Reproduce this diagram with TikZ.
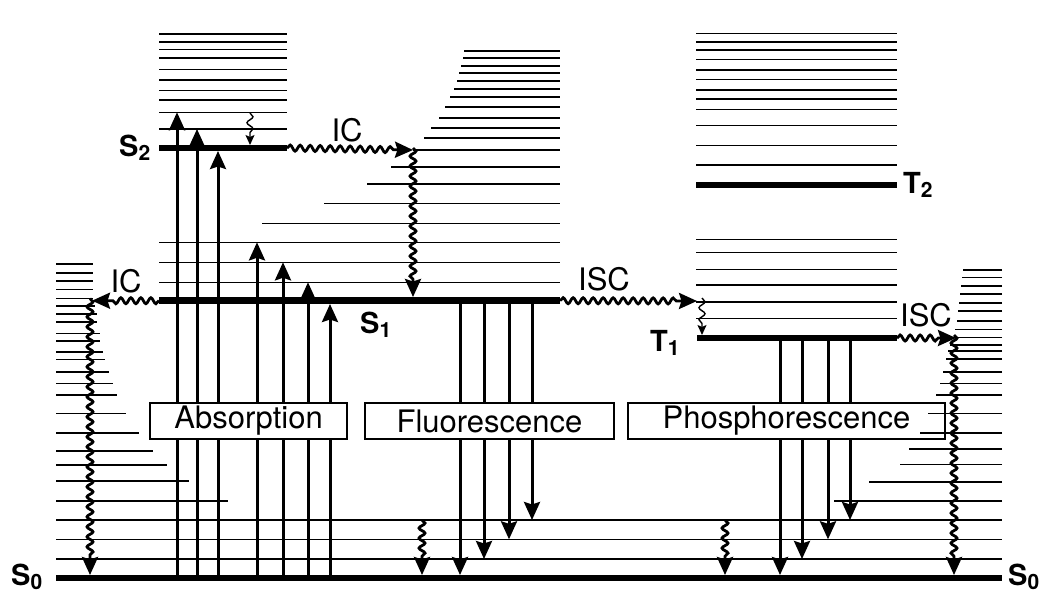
\documentclass[tikz,border=0pt]{standalone}
\usepackage{fontspec}
\setmainfont{TeX Gyre Heros}
\usetikzlibrary{arrows.meta,decorations.pathmorphing}

\tikzset{
  vib/.style={line width=1.6pt},
  level/.style={line width=6.5pt},
  bigtip/.style={-{Stealth[length=18pt,width=16pt,inset=2.5pt]}},
  radiative/.style={line width=3pt, bigtip},
  nonrad/.style={line width=2.8pt, bigtip, decorate,
    decoration={snake,amplitude=3pt,segment length=10pt,post length=16pt}},
  relax/.style={line width=1.4pt, -{Stealth[length=10pt,width=9pt,inset=2pt]}, decorate,
    decoration={snake,amplitude=3pt,segment length=12pt,post length=9pt}},
  procbox/.style={draw, line width=1.3pt, fill=white, minimum height=36pt, inner sep=0pt,
    font=\fontsize{31}{36}\selectfont},
  proc/.style={font=\fontsize{31}{36}\selectfont, inner sep=0pt},
  statelbl/.style={font=\fontsize{29}{34}\selectfont\bfseries, inner sep=0pt, anchor=base west}
}
\newcommand{\statename}[2]{#1\raisebox{-4pt}{\fontsize{21}{21}\selectfont\bfseries #2}}

\begin{document}
\begin{tikzpicture}[x=1pt,y=-1pt]
  \useasboundingbox (0,0) rectangle (1043,592);

  % vibrational ladders
  \foreach \y/\w in {264/37,272.7/37,280.7/37,289.3/37,298.3/37,306/39,314/41,321.7/41,
      333.3/44,340.7/44,351.7/47,359.3/49,371.7/53,383.3/57,395/61,413.3/70,432.7/83,
      450.7/97,465/111,481/133,500.7/172}
    \draw[vib] (56,\y) -- ++(\w,0);
  \foreach \y in {520,539.3,559}
    \draw[vib] (56,\y) -- (1002,\y);
  \foreach \y in {34,41.7,49.3,57.7,69.3,80,90.3,100,112.3,129}
    \draw[vib] (159,\y) -- (287,\y);
  \foreach \y/\x in {50.7/464,57.7/463,65.7/461,73/459,80.7/457,88.7/454,97/450,107/445,
      118/439,128/431,138/424,150/413,166.7/391,184/367,203.3/324,223.3/262,
      242.3/159,262.3/159,282.3/159}
    \draw[vib] (\x,\y) -- (560,\y);
  \foreach \y in {33.3,41.7,50,59.3,70,79.3,90,99,109.3,125.3,145.3,165,
      239.3,252.3,269.3,285,301.7,318.3}
    \draw[vib] (696,\y) -- (897,\y);

  % electronic levels
  \coordinate (S0w) at (56,578);   \coordinate (S0e) at (1002,578);
  \coordinate (S1w) at (159,300.7); \coordinate (S1e) at (560,300.7);
  \coordinate (S2w) at (159,148);  \coordinate (S2e) at (287,148);
  \coordinate (T1w) at (697,338);  \coordinate (T1e) at (897,338);
  \coordinate (T2w) at (696,185);  \coordinate (T2e) at (897,185);
  \foreach \a/\b in {S0w/S0e,S1w/S1e,S2w/S2e,T1w/T1e,T2w/T2e}
    \draw[level] (\a) -- (\b);

  % absorption, fluorescence, phosphorescence
  \foreach \x/\y in {177/112.3,197/129,218/151,257/242.3,283/262.3,308/282.3,330/304}
    \draw[radiative] (\x,578) -- (\x,\y);
  \foreach \x/\y in {460/575,484/559,509/539.3,532/520}
    \draw[radiative] (\x,300.7) -- (\x,\y);
  \foreach \x/\y in {780/575,802/559,828/539.3,850/520}
    \draw[radiative] (\x,338) -- (\x,\y);

  % internal conversion and intersystem crossing
  \coordinate (ICa) at (413,150);
  \coordinate (ICb) at (92,300.7);
  \coordinate (ISCa) at (697,301);
  \coordinate (ISCb) at (956,338);
  \draw[nonrad] (S2e) -- (ICa);
  \draw[nonrad] ([yshift=2pt]ICa) -- (413,297);
  \draw[nonrad] (S1w) -- (ICb);
  \draw[nonrad] ([xshift=-2pt,yshift=2pt]ICb) -- (90,575);
  \draw[nonrad] (S1e) -- (ISCa);
  \draw[nonrad] (T1e) -- (ISCb);
  \draw[nonrad] ([xshift=-2pt,yshift=3pt]ISCb) -- (954,575);
  \draw[nonrad] (422,520) -- (422,575);
  \draw[nonrad] (725,520) -- (725,575);
  \draw[relax] (250,113) -- (250,145);
  \draw[relax] ([xshift=5pt,yshift=3pt]ISCa) -- (702,335);

  % process labels
  \node[procbox, minimum width=197pt] (absorb) at (248.5,421) {Absorption};
  \node[procbox, minimum width=249pt] (fluor) at (489.5,421) {Fluorescence};
  \node[procbox, minimum width=317pt] (phos) at (786.5,421) {Phosphorescence};
  \node[proc] (ic1) at (347,130) {IC};
  \node[proc] (ic2) at (126,281) {IC};
  \node[proc] (isc1) at (604,279) {ISC};
  \node[proc] (isc2) at (926,315) {ISC};

  % right ground-state ladder
  \foreach \y/\w in {270/39,277.3/40,285.7/41,294/42,302.7/43,311/44,321/45,329.3/47,
      337.3/49,345/52,351/54,359/56,371.7/59,383.3/62,395/66,413.3/74,432.7/82,
      449/93,464.3/102,481.7/133,501/168}
    \draw[vib] (1002,\y) -- ++(-\w,0);

  % state labels
  \node[statelbl] (lS0a) at (11,585) {\statename{S}{0}};
  \node[statelbl] (lS0b) at (1008,585) {\statename{S}{0}};
  \node[statelbl] (lS1) at (360,333) {\statename{S}{1}};
  \node[statelbl] (lS2) at (119,156) {\statename{S}{2}};
  \node[statelbl] (lT1) at (650,351) {\statename{T}{1}};
  \node[statelbl] (lT2) at (903,193) {\statename{T}{2}};
\end{tikzpicture}
\end{document}
